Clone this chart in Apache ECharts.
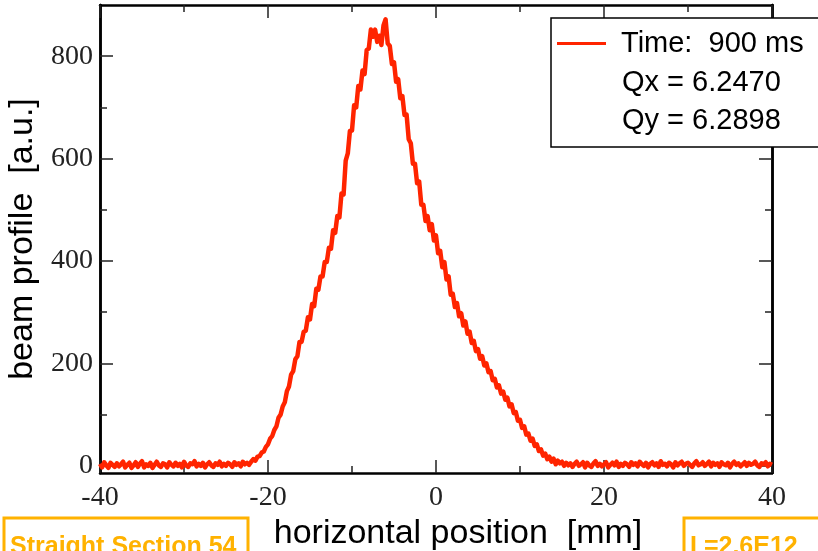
<!DOCTYPE html>
<html><head><meta charset="utf-8">
<script src="https://cdn.jsdelivr.net/npm/echarts@6/dist/echarts.min.js"></script>
<style>html,body{margin:0;padding:0;background:#fff}#c{width:818px;height:551px}</style>
</head><body><div id="c"></div>
<script>
// sample grid of the profile (mm)
const xStart = -40, xStep = 0.25;
// beam profile values (a.u.), one per 0.25 mm
const profile = [
  4, -3, 7, 1, -4, 6, 2, -2,
  5, -1, 3, 8, -3, 2, 6, -4,
  1, 7, -2, 4, 9, -3, 3, 0,
  6, -4, 2, 8, 1, -2, 5, 3,
  -3, 7, 2, -1, 6, 0, 4, -3,
  8, 1, -2, 5, 3, 9, -1, 4,
  0, 6, -3, 3, 7, 1, -2, 5,
  2, 8, -1, 4, 0, 6, 3, -2,
  7, 2, 5, -1, 8, 3, 6, 2,
  8, 13, 10, 18, 19, 26, 28, 37,
  42, 53, 58, 70, 77, 94, 100, 116,
  124, 146, 155, 178, 185, 208, 214, 242,
  242, 262, 264, 290, 286, 316, 312, 346,
  344, 370, 370, 398, 398, 426, 424, 460,
  455, 488, 485, 532, 530, 596, 610, 654,
  655, 704, 700, 742, 735, 772, 765, 812,
  815, 852, 838, 852, 828, 840, 822, 860,
  872, 825, 820, 785, 788, 750, 755, 718,
  722, 685, 686, 638, 630, 590, 590, 552,
  555, 510, 510, 478, 488, 460, 472, 440,
  450, 415, 420, 388, 398, 364, 370, 334,
  336, 310, 318, 292, 298, 274, 282, 258,
  262, 240, 244, 224, 228, 209, 214, 196,
  200, 183, 185, 167, 170, 153, 157, 141,
  145, 129, 133, 116, 120, 103, 105, 88,
  90, 74, 77, 61, 63, 49, 53, 39,
  42, 29, 32, 20, 24, 13, 18, 8,
  14, 3, 10, 5, 8, 0, 6, 1,
  5, -2, 4, 8, 0, 3, 7, -3,
  6, 1, -2, 5, 9, 0, 4, -1,
  3, 7, -3, 2, 6, 1, 8, -2,
  4, 0, 6, 3, -2, 7, 2, 5,
  -1, 8, 3, 0, 6, -3, 4, 7,
  1, 5, -2, 9, 2, 4, -1, 6,
  3, -3, 7, 1, 5, 8, 0, 4,
  6, 2, -2, 5, 9, 1, 3, 7,
  0, 4, 8, -1, 6, 2, 5, -2,
  7, 3, 1, 6, -3, 4, 8, 2,
  5, -1, 3, 7, 0, 6, 2, 4,
  8, 1, -2, 5, 3, 7, -1, 4,
  2
];
const xRange = [-40, 40];
const xInterval = 20;
const yRange = [-14, 900];
const yMajorTicks = [0, 200, 400, 600, 800];
const yMinorTicks = [100, 300, 500, 700];
const seriesName = 'Time:  900 ms';
const infoLines = ['Qx = 6.2470', 'Qy = 6.2898'];
const xTitle = 'horizontal position  [mm]';
const yTitle = 'beam profile  [a.u.]';
const boxLabels = ['Straight Section 54', 'I =2.6E12'];

const data = profile.map((v, i) => [xStart + i * xStep, v]);

const serif = 'Liberation Serif';
const sans = 'Liberation Sans';
const frame = { show: true, onZero: false, lineStyle: { color: '#000', width: 2.5 } };
const orange = '#ffb200';

function xAx(pos, labels) {
  return {
    type: 'value', position: pos, min: xRange[0], max: xRange[1], interval: xInterval,
    axisLine: frame,
    axisTick: { show: true, inside: true, length: 13, lineStyle: { color: '#222', width: 1.5 } },
    minorTick: { show: true, splitNumber: 2, length: 7, lineStyle: { color: '#222', width: 1.5 } },
    splitLine: { show: false }, minorSplitLine: { show: false },
    axisLabel: { show: labels, color: '#222', fontFamily: serif, fontSize: 28, margin: 11 },
    name: labels ? xTitle : '', nameLocation: 'middle', nameGap: 37,
    nameTextStyle: { color: '#000', fontFamily: sans, fontSize: 34, padding: [0, 0, 0, 44] }
  };
}
function yAx(pos, ticks, len, labels) {
  return {
    type: 'value', position: pos, min: yRange[0], max: yRange[1],
    axisLine: frame,
    axisTick: { show: true, inside: true, length: len, customValues: ticks, lineStyle: { color: '#222', width: 1.5 } },
    splitLine: { show: false },
    axisLabel: { show: labels, customValues: ticks, color: '#222', fontFamily: serif, fontSize: 28, margin: 7 },
    name: labels ? yTitle : '', nameLocation: 'middle', nameGap: 56,
    nameTextStyle: { color: '#000', fontFamily: sans, fontSize: 34 }
  };
}

const chart = echarts.init(document.getElementById('c'), null, { renderer: 'canvas' });
chart.setOption({
  animation: false,
  backgroundColor: '#fff',
  grid: { left: 100, right: 46, top: 5, bottom: 78, containLabel: false, outerBoundsMode: 'none' },
  xAxis: [xAx('bottom', true), xAx('top', false)],
  yAxis: [
    yAx('left', yMajorTicks, 13, true),
    yAx('left', yMinorTicks, 7, false),
    yAx('right', yMajorTicks, 13, false),
    yAx('right', yMinorTicks, 7, false)
  ],
  legend: {
    data: [seriesName], left: 551, top: 18, orient: 'vertical',
    itemWidth: 49, itemHeight: 3, icon: 'rect',
    padding: [11, 40, 89, 6],
    borderColor: '#000', borderWidth: 1.5, backgroundColor: '#fff',
    textStyle: { color: '#000', fontFamily: sans, fontSize: 29, padding: [0, 0, 0, 10] }
  },
  series: [{
    name: seriesName, type: 'line', data: data, xAxisIndex: 0, yAxisIndex: 0,
    showSymbol: false, symbol: 'none', sampling: 'none',
    color: '#ff2400',
    lineStyle: { color: '#ff2400', width: 4.5, join: 'round' },
    z: 1
  }],
  graphic: [
    { type: 'text', left: 622, top: 68, z: 100, style: { text: infoLines[0], fill: '#000', font: '29px "Liberation Sans"' } },
    { type: 'text', left: 622, top: 106, z: 100, style: { text: infoLines[1], fill: '#000', font: '29px "Liberation Sans"' } },
    { type: 'rect', shape: { x: 4, y: 518, width: 244, height: 60 }, style: { fill: 'none', stroke: orange, lineWidth: 3 } },
    { type: 'text', x: 10, y: 535, style: { text: boxLabels[0], fill: orange, font: 'bold 25px "Liberation Sans"', textVerticalAlign: 'top' } },
    { type: 'rect', shape: { x: 684, y: 518, width: 200, height: 60 }, style: { fill: 'none', stroke: orange, lineWidth: 3 } },
    { type: 'text', x: 690, y: 535, style: { text: boxLabels[1], fill: orange, font: 'bold 25px "Liberation Sans"', textVerticalAlign: 'top' } }
  ]
});
</script>
</body></html>
